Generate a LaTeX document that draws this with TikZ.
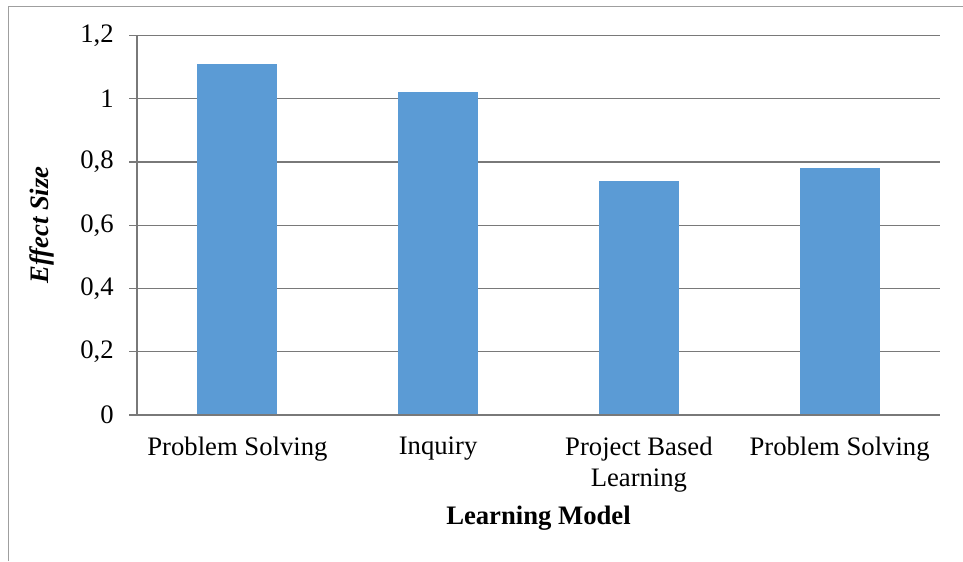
\documentclass[tikz,border=0pt]{standalone}
\usepackage{fontspec}
\setmainfont{Liberation Serif}
\begin{document}
\begin{tikzpicture}[x=0.75pt,y=-0.75pt,
  every node/.style={font=\fontsize{20}{23}\selectfont, inner sep=0pt},
  grid/.style={draw=gray!95!black, line width=0.9pt},
  frame/.style={draw=gray!75, line width=1.2pt},
  bar/.style={fill=barblue, draw=none},
  ticklab/.style={anchor=east},
  catlab/.style={anchor=north, align=center}]
\definecolor{barblue}{HTML}{5B9BD5}
\useasboundingbox (0,0) rectangle (963,561);
% frame
\draw[frame] (8.5,561) -- (8.5,6.5) -- (963,6.5);
% gridlines and tick labels
\foreach \v/\lab [count=\i] in {0/0,0.2/{0,2},0.4/{0,4},0.6/{0,6},0.8/{0,8},1/1,1.2/{1,2}}{
  \coordinate (g\i) at (129,{415-\v*316.25});
  \coordinate (h\i) at (940,{415-\v*316.25});
  \draw[grid] (g\i) -- (h\i);
  \node[ticklab] (t\i) at (114,{415-\v*316.25}) {\lab};
}
\coordinate (axtop) at (137,35.5);
\coordinate (axbot) at (137,415);
\draw[grid] (axtop) -- (axbot);
% bars
\foreach \c/\v [count=\i] in {237.4/1.11,438.1/1.02,638.9/0.74,839.6/0.78}{
  \fill[bar] ({\c-40},415) rectangle ({\c+40},{415-\v*316.25});
}
\draw[grid] (g1) -- (h1);
% category labels
\node[catlab] (c1) at (237.4,437) {Problem Solving};
\node[catlab] (c2) at (438.1,437) {Inquiry};
\node[catlab] (c3) at (638.9,437) {Project Based\\Learning};
\node[catlab] (c4) at (839.6,437) {Problem Solving};
% axis titles
\node (xt) at (538.5,518) {\bfseries Learning Model};
\node[rotate=90] (yt) at (42,225) {\bfseries\itshape Effect Size};
\end{tikzpicture}
\end{document}
